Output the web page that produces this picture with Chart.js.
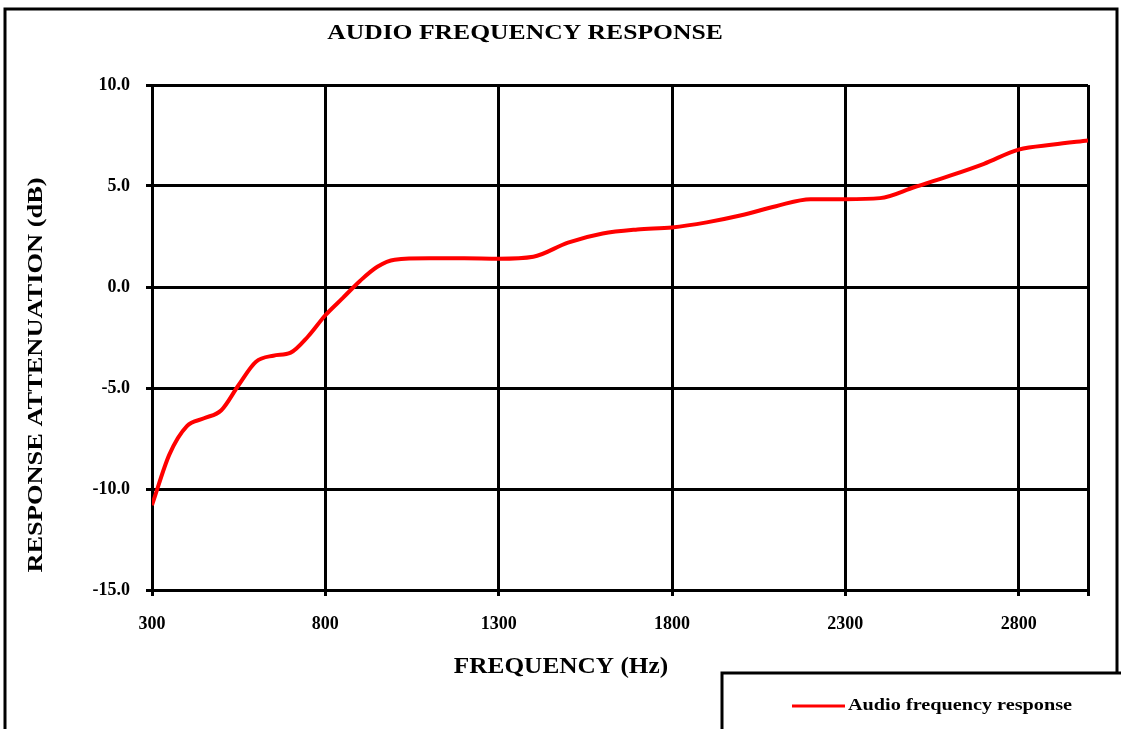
<!DOCTYPE html>
<html>
<head>
<meta charset="utf-8">
<title>Audio frequency response</title>
<script src="https://cdn.jsdelivr.net/npm/chart.js@4.4.1/dist/chart.umd.min.js"></script>
<style>
  html, body { margin: 0; padding: 0; background: #fff; overflow: hidden; }
  #wrap { position: relative; width: 1121px; height: 729px; }
</style>
</head>
<body>
<div id="wrap"><canvas id="chart" width="1121" height="729"></canvas></div>
<script>
// Audio frequency response
// ----------------------------------------------------------------

const chartTitle = 'AUDIO FREQUENCY RESPONSE';
const xTitle = 'FREQUENCY (Hz)';
const yTitle = 'RESPONSE ATTENUATION (dB)';
const seriesLabel = 'Audio frequency response';

// frequency (Hz)
const frequencies = [
  300, 350, 400, 450, 500, 550, 600, 650, 700, 750, 800, 850, 900, 950, 1000,
  1100, 1200, 1300, 1400, 1500, 1600, 1700, 1800, 1900, 2000, 2100, 2200,
  2300, 2400, 2500, 2600, 2700, 2800, 2900, 3000,
];
// attenuation (dB)
const responseDb = [
  -10.8, -8.3, -6.9, -6.5, -6.1, -4.85, -3.7, -3.4, -3.25, -2.45, -1.4, -0.55, 0.3, 1.0, 1.35,
  1.42, 1.42, 1.4, 1.5, 2.2, 2.65, 2.85, 2.95, 3.2, 3.55, 4.0, 4.35,
  4.35, 4.4, 4.95, 5.5, 6.1, 6.8, 7.05, 7.25,
];

const xTickLabels = [300, 800, 1300, 1800, 2300, 2800];
const xMax = 3000;
const yTickLabels = [-15, -10, -5, 0, 5, 10];

const FONT = '"Liberation Serif", "Times New Roman", serif';

// text stretched horizontally, like the wide bold face of the original
function wideText(ctx, text, x, y, size, stretch, align) {
  ctx.save();
  ctx.translate(x, y);
  ctx.scale(stretch, 1);
  ctx.font = 'bold ' + size + 'px ' + FONT;
  ctx.textAlign = align || 'center';
  ctx.textBaseline = 'middle';
  ctx.fillText(text, 0, 0);
  ctx.restore();
}

// -------------------------------------------------------------------------
// Frame, titles and legend box (drawn after the chart)
// -------------------------------------------------------------------------
const decorPlugin = {
  id: 'decor',
  afterDraw(chart) {
    const ctx = chart.ctx;
    const area = chart.chartArea;
    ctx.save();

    // outer frame (bottom is cut off in the picture)
    ctx.strokeStyle = '#000';
    ctx.lineWidth = 3;
    ctx.beginPath();
    ctx.moveTo(5, 740);
    ctx.lineTo(5, 9);
    ctx.lineTo(1117, 9);
    ctx.lineTo(1117, 673);
    ctx.stroke();

    ctx.fillStyle = '#000';

    // title
    wideText(ctx, chartTitle, 525, 34, 21, 1.22);

    // x title
    wideText(ctx, xTitle, 561, 667, 23, 1.1);

    // y title
    ctx.save();
    ctx.translate(36, 375);
    ctx.rotate(-Math.PI / 2);
    wideText(ctx, yTitle, 0, 0, 22, 1.2);
    ctx.restore();

    // legend box
    ctx.lineWidth = 3;
    ctx.beginPath();
    ctx.moveTo(722, 740);
    ctx.lineTo(722, 673);
    ctx.lineTo(1125, 673);
    ctx.stroke();

    const ds = chart.data.datasets[0];
    ctx.strokeStyle = ds.borderColor;
    ctx.lineWidth = 3;
    ctx.beginPath();
    ctx.moveTo(792, 706);
    ctx.lineTo(845, 706);
    ctx.stroke();

    ctx.fillStyle = '#000';
    wideText(ctx, ds.label, 848, 706, 17, 1.19, 'left');

    ctx.restore();
  },
};

// -------------------------------------------------------------------------
// Chart
// -------------------------------------------------------------------------
window.addEventListener('DOMContentLoaded', () => {
  const ctx = document.getElementById('chart').getContext('2d');

  new Chart(ctx, {
    type: 'line',
    data: {
      datasets: [
        {
          label: seriesLabel,
          data: frequencies.map((f, i) => ({ x: f, y: responseDb[i] })),
          borderColor: '#ff0000',
          borderWidth: 4,
          pointRadius: 0,
          fill: false,
          cubicInterpolationMode: 'monotone',
        },
      ],
    },
    options: {
      responsive: false,
      animation: false,
      layout: { padding: { left: 0, right: 33, top: 85, bottom: 0 } },
      plugins: {
        legend: { display: false },
        title: { display: false },
        tooltip: { enabled: false },
      },
      scales: {
        x: {
          type: 'linear',
          min: xTickLabels[0],
          max: xMax,
          afterBuildTicks: (scale) => {
            scale.ticks = xTickLabels.concat([xMax]).map((v) => ({ value: v }));
          },
          ticks: {
            padding: 18,
            color: '#000',
            font: { family: FONT, size: 18, weight: 'bold' },
            callback: (v) => (xTickLabels.includes(v) ? String(v) : ''),
          },
          grid: { color: '#000', lineWidth: 3, tickLength: 6 },
          border: { color: '#000', width: 3 },
          afterFit: (scale) => { scale.height = 139; },
        },
        y: {
          type: 'linear',
          min: -15,
          max: 10,
          afterBuildTicks: (scale) => {
            scale.ticks = yTickLabels.map((v) => ({ value: v }));
          },
          ticks: {
            padding: 16,
            color: '#000',
            font: { family: FONT, size: 18, weight: 'bold' },
            callback: (v) => v.toFixed(1),
          },
          grid: { color: '#000', lineWidth: 3, tickLength: 6 },
          border: { color: '#000', width: 3 },
          afterFit: (scale) => { scale.width = 152; },
        },
      },
    },
    plugins: [decorPlugin],
  });
});
</script>
</body>
</html>
